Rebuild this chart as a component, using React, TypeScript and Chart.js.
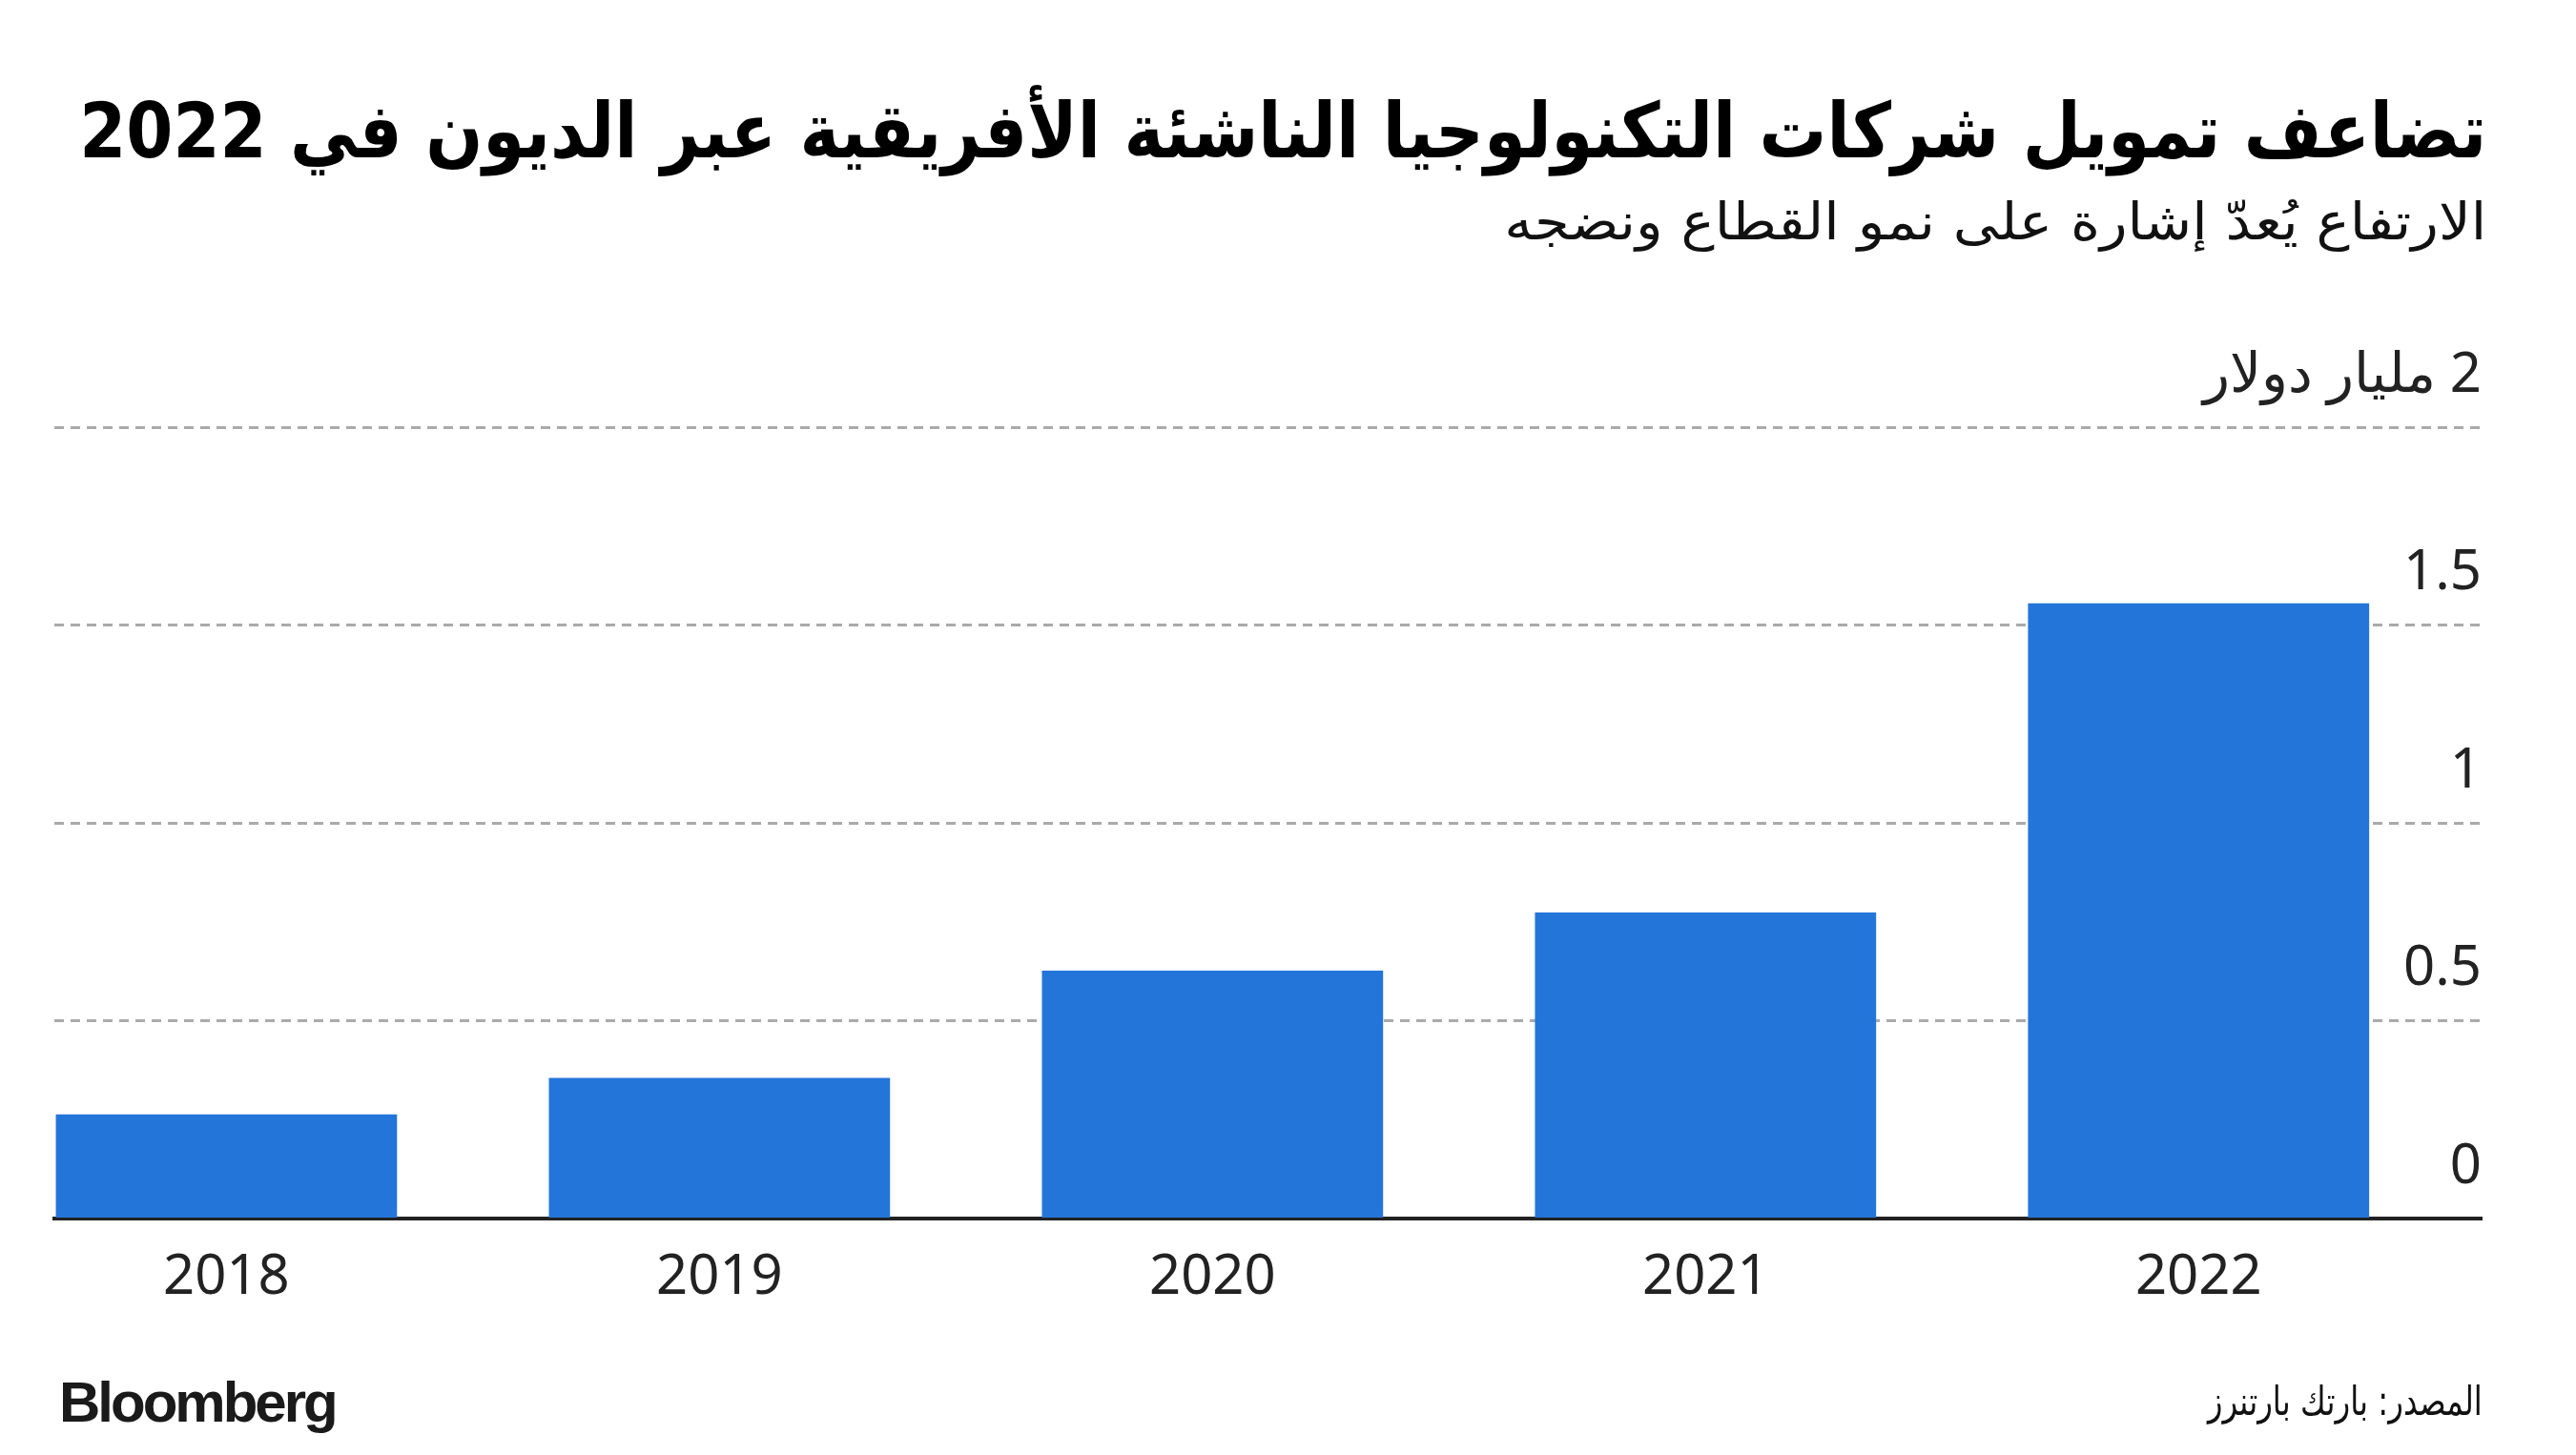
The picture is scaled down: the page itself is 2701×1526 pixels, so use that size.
import React, { useEffect, useLayoutEffect, useRef } from 'react';
import { Chart, registerables } from 'chart.js';

Chart.register(...registerables);

// ---- data ----
const years = [2018, 2019, 2020, 2021, 2022];
const funding = [0.264, 0.356, 0.627, 0.774, 1.555]; // billion USD
const yTicks = [0, 0.5, 1, 1.5, 2];
const unitLabel = 'مليار دولار';
const titleText = 'تضاعف تمويل شركات التكنولوجيا الناشئة الأفريقية عبر الديون في 2022';
const subtitleText = 'الارتفاع يُعدّ إشارة على نمو القطاع ونضجه';
const sourceText = 'المصدر: بارتك بارتنرز';
const brandText = 'Bloomberg';

const W = 2701;
const H = 1526;

export default function App() {
  const ref = useRef<HTMLCanvasElement | null>(null);
  const titleRef = useRef<HTMLDivElement | null>(null);
  const subRef = useRef<HTMLDivElement | null>(null);
  const srcRef = useRef<HTMLDivElement | null>(null);

  useLayoutEffect(() => {
    const fit = (el: HTMLDivElement | null, target: number) => {
      if (!el) return;
      el.style.transform = 'none';
      const w = el.getBoundingClientRect().width;
      if (w > 0) el.style.transform = `scaleX(${target / w})`;
    };
    fit(titleRef.current, 2524);
    fit(subRef.current, 1030);
    fit(srcRef.current, 288);
  }, []);

  useEffect(() => {
    const canvas = ref.current;
    if (!canvas) return;
    const chart = new Chart(canvas, {
      type: 'bar',
      data: {
        datasets: [
          {
            data: years.map((x, i) => ({ x, y: funding[i] })),
            backgroundColor: '#2475D9',
            borderWidth: 0,
            barPercentage: 0.692,
            categoryPercentage: 1,
          },
        ],
      },
      options: {
        animation: false,
        responsive: false,
        maintainAspectRatio: false,
        devicePixelRatio: 1,
        layout: { padding: { left: 57, right: 99, top: 448, bottom: 124 } },
        plugins: {
          legend: { display: false },
          tooltip: { enabled: false },
          title: { display: false },
        },
        scales: {
          x: {
            type: 'linear',
            min: 2017.651,
            max: 2022.574,
            offset: false,
            z: 1,
            afterBuildTicks: (s: any) => {
              s.ticks = years.map((v) => ({ value: v }));
            },
            grid: { display: false, drawTicks: false },
            border: { display: true, color: '#222222', width: 4 },
            ticks: {
              padding: 27,
              color: '#222222',
              maxRotation: 0,
              autoSkip: false,
              font: { family: 'Noto Sans', size: 58, lineHeight: 1.2 },
              callback: (v: any) => String(v),
            },
          },
          y: {
            position: 'right',
            min: 0,
            max: 2,
            afterBuildTicks: (s: any) => {
              s.ticks = yTicks.map((v) => ({ value: v }));
            },
            grid: { color: '#AAAAAA', lineWidth: 3, drawTicks: false },
            border: { display: false, dash: [10, 7] },
            ticks: {
              mirror: true,
              padding: 0,
              labelOffset: -54,
              color: '#222222',
              font: { family: 'Noto Sans', size: 58 },
              callback: (v: any) =>
                v === yTicks[yTicks.length - 1] ? `${v} ${unitLabel}` : String(v),
            },
          },
        },
      },
    } as any);
    return () => chart.destroy();
  }, []);

  const base: React.CSSProperties = {
    position: 'absolute',
    whiteSpace: 'nowrap',
    margin: 0,
  };

  return (
    <div
      style={{
        position: 'absolute',
        left: 0,
        top: 0,
        width: W,
        height: H,
        background: '#ffffff',
        overflow: 'hidden',
      }}
    >
      <canvas
        ref={ref}
        dir="rtl"
        width={W}
        height={H}
        style={{ position: 'absolute', left: 0, top: 0, width: W, height: H }}
      />
      <div
        ref={titleRef}
        dir="rtl"
        style={{
          ...base,
          right: 94,
          top: 98,
          transformOrigin: 'right center',
          fontFamily: '"DejaVu Sans", sans-serif',
          fontWeight: 700,
          fontSize: 80,
          lineHeight: 1,
          color: '#000000',
        }}
      >
        {titleText}
      </div>
      <div
        ref={subRef}
        dir="rtl"
        style={{
          ...base,
          right: 94,
          top: 206,
          transformOrigin: 'right center',
          fontFamily: '"DejaVu Sans", sans-serif',
          fontSize: 54,
          lineHeight: 1,
          color: '#111111',
        }}
      >
        {subtitleText}
      </div>
      <div
        style={{
          ...base,
          left: 62,
          top: 1441,
          fontFamily: '"Liberation Sans", Arial, sans-serif',
          fontWeight: 700,
          fontSize: 60,
          letterSpacing: -3,
          lineHeight: 1,
          color: '#1a1a1a',
        }}
      >
        {brandText}
      </div>
      <div
        ref={srcRef}
        dir="rtl"
        style={{
          ...base,
          right: 98,
          top: 1449,
          transformOrigin: 'right center',
          fontFamily: '"DejaVu Sans", sans-serif',
          fontSize: 42,
          lineHeight: 1,
          color: '#111111',
        }}
      >
        {sourceText}
      </div>
    </div>
  );
}
